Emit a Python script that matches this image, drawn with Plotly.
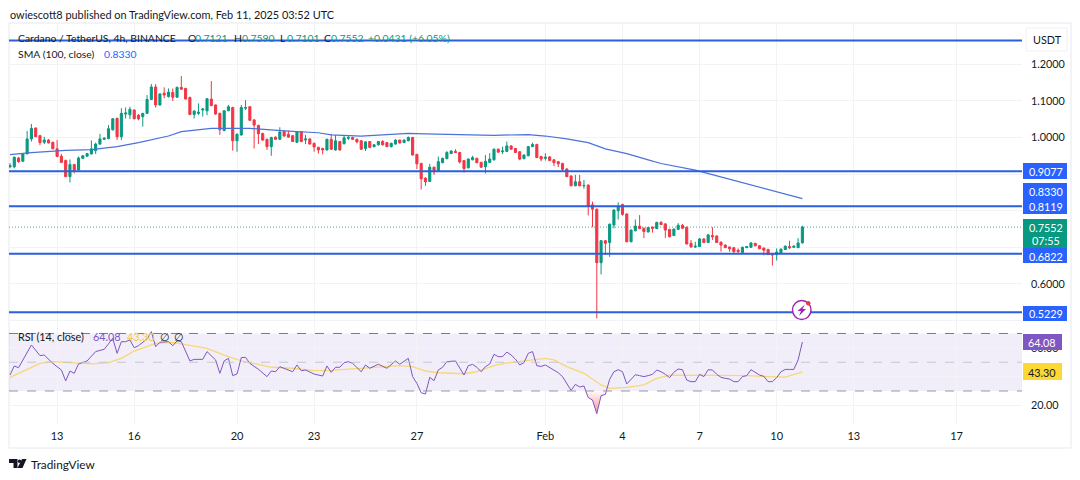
# Cardano / TetherUS 4h chart with SMA and RSI, rebuilt from a TradingView snapshot

import pandas as pd
import plotly.graph_objects as go

W = 1080
H = 480

opens = [
    .920, .920, .944, .935, .955, .996, 1.026, 1.005, .987, .993,
    .987, .969, .949, .937, .893, .926, .911, .943, .949, .955,
    .964, .982, .995, .997, 1.021, 1.052, 1.002, 1.064, 1.062, 1.075,
    1.061, 1.057, 1.066, 1.104, 1.138, 1.089, 1.121, 1.112, 1.123, 1.110,
    1.137, 1.134, 1.109, 1.063, 1.066, 1.075, 1.073, 1.105, 1.089, 1.066,
    1.019, 1.073, 1.082, .991, 1.007, 1.080, 1.084, 1.048, 1.033, 1.011,
    .995, .975, 1.001, .995, 1.016, 1.009, 1.005, .987, 1.016, .993,
    .996, .984, .973, .970, .966, .995, .966, .989, .983, .998,
    1.000, .995, .991, .970, .989, .975, .980, .989, .986, .975,
    .982, .993, .986, .991, 1.000, .954, .929, .889, .880, .919,
    .907, .931, .942, .956, .962, .959, .937, .917, .939, .943,
    .932, .920, .932, .939, .968, .961, .962, .977, .970, .961,
    .942, .950, .975, .981, .948, .943, .947, .939, .934, .929,
    .914, .895, .868, .879, .868, .870, .816, .804, .658, .718,
    .713, .761, .800, .817, .791, .715, .745, .758, .752, .742,
    .755, .751, .768, .764, .749, .732, .749, .760, .755, .711,
    .701, .702, .723, .713, .732, .731, .714, .706, .701, .699,
    .692, .686, .699, .700, .711, .704, .698, .694, .682, .680,
    .685, .694, .702, .700, .699, .7121,
]
highs = [
    .930, .948, .947, .957, 1.018, 1.037, 1.027, 1.007, 1.002, .996,
    .988, .993, .955, .940, .940, .928, .948, .952, .958, .992,
    .986, 1.010, 1.001, 1.034, 1.053, 1.055, 1.080, 1.082, 1.084, 1.077,
    1.064, 1.067, 1.116, 1.146, 1.146, 1.121, 1.137, 1.134, 1.134, 1.139,
    1.168, 1.136, 1.112, 1.075, 1.093, 1.080, 1.106, 1.154, 1.090, 1.068,
    1.075, 1.089, 1.084, 1.011, 1.089, 1.102, 1.086, 1.050, 1.035, 1.013,
    .997, 1.002, 1.003, 1.028, 1.020, 1.019, 1.007, 1.017, 1.017, 1.007,
    .998, .986, .975, .972, .997, 1.010, 1.007, .991, 1.007, 1.007,
    1.002, .997, .993, .990, .990, .982, .990, .993, .988, .986,
    .995, .994, .995, 1.003, 1.002, .955, .931, .891, .928, .920,
    .948, .945, .963, .965, .968, .961, .938, .943, .950, .945,
    .934, .952, .957, .970, .970, .975, .989, .979, .971, .963,
    .954, .977, .986, .983, .950, .957, .949, .940, .935, .931,
    .916, .896, .898, .898, .884, .872, .825, .806, .720, .720,
    .765, .804, .823, .819, .793, .749, .776, .788, .754, .756,
    .757, .770, .772, .766, .750, .751, .766, .764, .756, .720,
    .715, .725, .724, .736, .755, .732, .716, .708, .702, .700,
    .697, .702, .703, .714, .712, .706, .699, .696, .684, .697,
    .697, .705, .718, .705, .725, .7590,
]
lows = [
    .916, .916, .931, .935, .955, .989, 1.001, .979, .982, .984,
    .968, .947, .930, .893, .877, .902, .911, .942, .948, .954,
    .955, .980, .993, .995, 1.019, .993, .993, 1.052, 1.050, 1.050,
    1.047, 1.030, 1.064, 1.102, 1.082, 1.087, 1.107, 1.109, 1.100, 1.108,
    1.130, 1.104, 1.061, 1.052, 1.061, 1.057, 1.061, 1.086, 1.062, 1.007,
    1.017, 1.072, .964, .961, 1.005, 1.075, 1.045, .970, .982, .991,
    .966, .950, .993, .994, 1.002, 1.000, .988, .985, .987, .982,
    .981, .961, .956, .954, .964, .966, .964, .964, .981, .993,
    .993, .984, .966, .963, .971, .973, .978, .978, .974, .973,
    .981, .984, .985, .990, .951, .914, .858, .868, .879, .898,
    .906, .930, .941, .955, .958, .929, .904, .916, .938, .930,
    .917, .902, .931, .937, .959, .955, .960, .967, .958, .938,
    .941, .949, .974, .944, .935, .937, .936, .922, .919, .907,
    .892, .867, .867, .867, .860, .787, .755, .506, .626, .679,
    .674, .752, .776, .786, .714, .714, .744, .750, .725, .741,
    .740, .750, .761, .726, .727, .731, .748, .751, .708, .699,
    .698, .701, .712, .712, .720, .712, .688, .698, .688, .685,
    .685, .682, .698, .699, .703, .695, .678, .679, .650, .664,
    .684, .693, .695, .699, .698, .7101,
]
closes = [
    .923, .946, .934, .955, .996, 1.025, 1.002, .986, .993, .985,
    .969, .948, .932, .893, .926, .909, .944, .950, .956, .969,
    .982, .996, .998, 1.024, 1.051, 1.002, 1.066, 1.067, 1.077, 1.051,
    1.051, 1.066, 1.104, 1.138, 1.089, 1.119, 1.116, 1.124, 1.110, 1.137,
    1.132, 1.105, 1.063, 1.072, 1.069, 1.078, 1.106, 1.087, 1.064, 1.021,
    1.073, 1.084, .991, 1.009, 1.082, 1.082, 1.047, 1.034, 1.010, .993,
    .975, 1.000, .995, 1.015, 1.004, 1.001, .989, 1.015, .989, .996,
    .982, .974, .966, .966, .995, .968, .991, .966, .999, 1.000,
    .995, .988, .968, .988, .973, .980, .989, .980, .975, .984,
    .993, .985, .993, 1.000, .952, .928, .887, .879, .919, .906,
    .934, .943, .959, .963, .959, .933, .915, .941, .945, .931,
    .919, .935, .941, .968, .960, .963, .977, .968, .959, .941,
    .952, .975, .981, .945, .941, .946, .937, .931, .928, .913,
    .893, .868, .879, .868, .869, .813, .804, .658, .718, .711,
    .763, .802, .811, .790, .715, .747, .758, .751, .743, .754,
    .752, .768, .762, .747, .729, .750, .760, .752, .709, .701,
    .703, .723, .713, .734, .729, .713, .706, .699, .696, .688,
    .688, .700, .702, .712, .704, .696, .692, .680, .679, .687,
    .695, .703, .699, .703, .712, .7552,
]

sma_bars = [0, 5, 13, 19, 25, 30, 37, 40, 47, 56, 64, 72, 75, 82, 88, 93, 97, 105,
            113, 121, 125, 130, 135, 139, 144, 149, 152, 160, 172, 185]
sma_values = [.953, .9586, .965, .967, .975, .986, 1.004, 1.016, 1.025, 1.025, 1.018,
              1.013, 1.007, 1.004, 1.008, 1.011, 1.010, 1.007, 1.006, 1.008, 1.004,
              .996, .986, .969, .956, .939, .929, .911, .873, .833]

rsi_bars = [0, 1, 2, 3, 5, 7, 8, 10, 12, 13, 14, 15, 16, 18, 20, 22, 23, 24, 25, 26,
            27, 28, 29, 30, 32, 33, 34, 35, 37, 38, 39, 40, 42, 43, 45, 46, 48, 49, 50, 51,
            52, 53, 54, 55, 56, 58, 60, 61, 62, 63, 66, 67, 68, 69, 71, 73, 74, 75, 76, 77,
            78, 79, 80, 82, 83, 84, 86, 88, 90, 91, 93, 94, 95, 96, 97, 98, 99, 100, 101, 102,
            104] + list(range(105, 186))
rsi_values = [41.1, 47.4, 46.2, 51.6, 62, 54.6, 55, 49.2, 44.6, 37, 43.9, 42.3, 48.8, 50.9,
              57.4, 59, 63.2, 66.6, 56.2, 64.3, 64.3, 65.5, 60.1, 61.5, 66.2, 71.3, 60.8, 63.9,
              64.3, 61.5, 64.8, 64.3, 50.9, 52, 52, 57.4, 51.6, 42.3, 50.9, 52.7, 40.7, 41.8,
              53.2, 53.4, 49.2, 45.1, 40, 43.9, 43.4, 46.9, 43.4, 48.1, 44.1, 44.6, 41.8, 40.4,
              47.4, 43, 46.5, 46.5, 49.7, 50.4, 49.2, 43.4, 48.1, 45.8, 48.6, 45.8, 50.9, 48.6,
              52.7, 40, 35.3, 28.8, 27.9, 39.5, 37.2, 44.6, 46.5, 50.4, 50.9,
              45.8, 41.1, 47.6, 48.5, 46.5, 43.4, 46.9, 48.8, 55.5, 53.9, 53.9, 57.1, 55, 52.2,
              48.1, 49.7, 56.2, 57.4, 47.6, 47.1, 48.1, 46.2, 44.8, 42.7, 40, 35.3, 30.4, 34.6,
              32.8, 33.5, 25.4, 23.7, 14.2, 26.7, 27.7, 38.1, 43.4, 44.8, 43.4, 34.9, 38.3, 41.3,
              40.7, 40, 40.7, 41.6, 44.6, 43.4, 41.6, 39.3, 43, 45.3, 44.8, 37.6, 36.5, 36.5,
              41.6, 40, 44.8, 44.6, 41.6, 39.5, 38.8, 38.3, 36.5, 36.5, 40, 40.7, 44.8, 42.7,
              41.1, 40.2, 36.5, 36.5, 39.3, 43.4, 45, 45, 45, 51.6, 64.08]

rsi_ma_bars = [0, 2, 5, 7, 10, 13, 16, 19, 23, 26, 29, 32, 34, 38, 41, 46, 50, 54, 58, 61,
               66, 71, 75, 80, 86, 91, 94, 97, 100, 106, 109, 113, 116, 121, 125, 127, 130,
               134, 138, 140, 144, 148, 151, 154, 161, 169, 172, 177, 181, 185]
rsi_ma_values = [39.5, 42.3, 46.9, 49.2, 50.4, 49.9, 49.7, 48.8, 49.7, 52.7, 57.8, 60.8, 63.1,
                 63.8, 62.4, 59.7, 55, 50.9, 48.5, 46.5, 45.8, 44.1, 44.4, 45.3, 46.2, 47.6,
                 46.9, 43.9, 42.7, 42, 43.4, 47.6, 49.5, 51.3, 52.7, 51.6, 46.9, 42.3, 34.2,
                 31.8, 32.5, 34.2, 38.8, 41.1, 41.1, 40.7, 40.7, 40, 39.7, 43.3]

levels = [1.265, 0.9077, 0.8119, 0.6822, 0.5229]
last_price = 0.7552

price_ticks = [1.2, 1.1, 1.0, 0.9, 0.8, 0.7, 0.6, 0.5]
price_labels = ["1.2000", "1.1000", "1.0000", "", "", "", "0.6000", ""]
rsi_ticks = [60, 40, 20]
rsi_labels = ["60.00", "", "20.00"]
date_ticks = ["2025-01-13", "2025-01-16", "2025-01-20", "2025-01-23", "2025-01-27", "2025-02-01",
              "2025-02-04", "2025-02-07", "2025-02-10", "2025-02-13", "2025-02-17"]
date_labels = ["13", "16", "20", "23", "27", "Feb", "4", "7", "10", "13", "17"]

GREEN = "#089981"
RED = "#F23645"
BLUE = "#2962FF"
LEVEL_BLUE = "#2B5FDD"
SMA_BLUE = "#4A72D9"
PURPLE = "#7E57C2"
YELLOW = "#F7D774"
GRID = "#F2F3F7"
INK = "#131722"
FONT = "Lato"

times = pd.date_range("2025-01-11 04:00", periods=len(opens), freq="4h")
x_range = [times[0] - pd.Timedelta(hours=0.93), times[0] + pd.Timedelta(hours=945.1)]


def px(x):
    return x / W


def py(y):
    return 1 - y / H


def path(points, close=True):
    cmds = [("M" if n == 0 else "L") + f"{px(a):.5f},{py(b):.5f}" for n, (a, b) in enumerate(points)]
    return " ".join(cmds) + (" Z" if close else "")


fig = go.Figure()

fig.add_trace(go.Candlestick(
    x=times, open=opens, high=highs, low=lows, close=closes, xaxis="x", yaxis="y",
    increasing=dict(line=dict(color=GREEN, width=1), fillcolor=GREEN),
    decreasing=dict(line=dict(color=RED, width=1), fillcolor=RED),
    whiskerwidth=0, showlegend=False,
))
fig.add_trace(go.Scatter(
    x=times[sma_bars], y=sma_values, mode="lines", xaxis="x", yaxis="y",
    line=dict(color=SMA_BLUE, width=1.2), showlegend=False,
))

# oversold wedge under the 30 line
low_bars = [134, 135, 136, 137, 138, 139, 140]
low_rsi = [min(rsi_values[rsi_bars.index(b)], 30) for b in low_bars]
fig.add_trace(go.Scatter(
    x=times[low_bars], y=[30] * len(low_bars), mode="lines", line=dict(width=0),
    xaxis="x2", yaxis="y2", showlegend=False,
))
fig.add_trace(go.Scatter(
    x=times[low_bars], y=low_rsi, mode="lines", line=dict(width=0), fill="tonexty",
    fillgradient=dict(type="vertical", colorscale=[[0, "rgba(242,54,69,0.55)"], [1, "rgba(242,54,69,0.02)"]]),
    xaxis="x2", yaxis="y2", showlegend=False,
))
fig.add_trace(go.Scatter(
    x=times[rsi_ma_bars], y=rsi_ma_values, mode="lines", xaxis="x2", yaxis="y2",
    line=dict(color=YELLOW, width=1.3), showlegend=False,
))
fig.add_trace(go.Scatter(
    x=times[rsi_bars], y=rsi_values, mode="lines", xaxis="x2", yaxis="y2",
    line=dict(color=PURPLE, width=1), showlegend=False,
))

shapes = []

# chart frame
shapes.append(dict(type="rect", xref="paper", yref="paper", x0=px(9), x1=px(1071), y0=py(448), y1=py(23),
                   line=dict(color="#E6E8EE", width=1), layer="below"))

# RSI band
shapes.append(dict(type="rect", xref="paper", yref="y2", x0=px(9), x1=px(1022), y0=30, y1=70,
                   fillcolor="rgba(126,87,194,0.10)", line=dict(width=0), layer="below"))
for val, col in [(70, "#787B86"), (50, "#C4C6CE"), (30, "#9598A1")]:
    shapes.append(dict(type="line", xref="paper", yref="y2", x0=px(9), x1=px(1022), y0=val, y1=val,
                       line=dict(color=col, width=1, dash="dash")))

# horizontal levels and last price
for lvl in levels:
    shapes.append(dict(type="line", xref="paper", yref="y", x0=px(9), x1=px(1022), y0=lvl, y1=lvl,
                       line=dict(color=LEVEL_BLUE, width=2)))
shapes.append(dict(type="line", xref="paper", yref="y", x0=px(9), x1=px(1022), y0=last_price, y1=last_price,
                   line=dict(color=GREEN, width=0.8, dash="1px,2px")))

# price tags on the right
for y0, y1, col, x1 in [(219, 248, GREEN, 1067), (163, 179, BLUE, 1067), (183, 214, BLUE, 1067),
                        (248, 263, BLUE, 1067), (306, 321, BLUE, 1067),
                        (334, 350, PURPLE, 1062), (363, 380, "#FDD835", 1062)]:
    shapes.append(dict(type="rect", xref="paper", yref="paper", x0=px(1023), x1=px(x1), y0=py(y1), y1=py(y0),
                       fillcolor=col, line=dict(width=0)))

# USDT box
shapes.append(dict(type="rect", xref="paper", yref="paper", x0=px(1026), x1=px(1067), y0=py(51), y1=py(28),
                   fillcolor="white", line=dict(color="#EEF0F4", width=1)))

# lightning badge
shapes.append(dict(type="circle", xref="paper", yref="paper", x0=px(792.5), x1=px(811), y0=py(319.5), y1=py(300.5),
                   fillcolor="white", line=dict(color="#9C27B0", width=1.4)))
shapes.append(dict(type="path", xref="paper", yref="paper", fillcolor="#9C27B0", line=dict(width=0),
                   path=path([(805, 304.5), (797.5, 311), (801, 311), (799, 316), (806, 309), (802.5, 309)])))
shapes.append(dict(type="circle", xref="paper", yref="paper", x0=px(806), x1=px(810.5), y0=py(305.5), y1=py(301),
                   fillcolor=RED, line=dict(width=0)))

# TradingView mark
shapes.append(dict(type="path", xref="paper", yref="paper", fillcolor=INK, line=dict(width=0),
                   path=path([(9, 459), (17.5, 459), (17.5, 468), (13.5, 468), (13.5, 463), (9, 463)])))
shapes.append(dict(type="path", xref="paper", yref="paper", fillcolor=INK, line=dict(width=0),
                   path=path([(22, 459), (26.5, 459), (22.5, 468), (17.5, 468)])))
shapes.append(dict(type="circle", xref="paper", yref="paper", x0=px(17.8), x1=px(21.2), y0=py(463), y1=py(459.5),
                   fillcolor=INK, line=dict(width=0)))

annotations = []


def label(x, y, text, color=INK, size=10.8, anchor="left"):
    annotations.append(dict(xref="paper", yref="paper", x=px(x), y=py(y), text=text, showarrow=False,
                            xanchor=anchor, yanchor="middle", borderpad=0,
                            font=dict(family=FONT, size=size, color=color)))


label(9, 14, "owiescott8 published on TradingView.com, Feb 11, 2025 03:52 UTC", size=10.9)

label(17, 38, "Cardano / TetherUS, 4h, BINANCE", size=10.4)
for x, y, text, col in [(187, 38, "O", INK), (194, 38, "0.7121", GREEN), (233, 38, "H", INK), (241, 38, "0.7590", GREEN),
                        (279, 38, "L", INK), (286, 38, "0.7101", GREEN), (323, 38, "C", INK), (330, 38, "0.7552", GREEN),
                        (367, 38, "+0.0431 (+6.05%)", GREEN)]:
    label(x, y, text, col, 10.4)
label(17, 54, "SMA (100, close)", size=10.4)
label(103, 54, "0.8330", BLUE, 10.4)

label(17, 336, "RSI (14, close)", size=10.8)
label(92, 336, "64.08", PURPLE)
label(126, 336, "43.30", "#F2C94C")
label(159, 336, "∅")
label(173, 336, "∅")

label(1047, 39, "USDT", size=10.8, anchor="center")
for y, text in [(171.5, "0.9077"), (191.5, "0.8330"), (206, "0.8119"), (227, "0.7552"), (240, "07:55"),
                (256, "0.6822"), (313, "0.5229")]:
    label(1046, y, text, "white", 10.8, "center")
label(1042, 342, "64.08", "white", 10.8, "center")
label(1042, 372, "43.30", INK, 10.8, "center")

label(30, 464, "TradingView", size=11.8)

fig.update_layout(
    width=W, height=H, margin=dict(l=0, r=0, t=0, b=0),
    paper_bgcolor="white", plot_bgcolor="white", showlegend=False,
    font=dict(family=FONT, size=10.8, color=INK),
    shapes=shapes, annotations=annotations,
    xaxis=dict(domain=[px(9), px(1022)], range=x_range, anchor="y", type="date",
               tickmode="array", tickvals=date_ticks, ticktext=date_labels, showticklabels=False,
               showgrid=True, gridcolor=GRID, gridwidth=1, zeroline=False, showline=False,
               rangeslider=dict(visible=False)),
    yaxis=dict(domain=[py(326), py(23)], range=[0.485, 1.3128], side="right", anchor="x",
               tickmode="array", tickvals=price_ticks, ticktext=price_labels,
               showgrid=True, gridcolor=GRID, gridwidth=1, zeroline=False, showline=False,
               ticks="", ticklabelstandoff=8),
    xaxis2=dict(domain=[px(9), px(1022)], range=x_range, anchor="y2", type="date", matches="x",
                tickmode="array", tickvals=date_ticks, ticktext=date_labels, tickangle=0,
                showgrid=True, gridcolor=GRID, gridwidth=1, zeroline=False, showline=False,
                ticks="", ticklabelstandoff=3, tickfont=dict(size=11)),
    yaxis2=dict(domain=[py(425), py(326)], range=[6.35, 75.2], side="right", anchor="x2",
                tickmode="array", tickvals=rsi_ticks, ticktext=rsi_labels,
                showgrid=True, gridcolor=GRID, gridwidth=1, zeroline=False, showline=False,
                ticks="", ticklabelstandoff=8),
)

fig.write_html("out.html", config=dict(displayModeBar=False),
               post_script="document.body.style.margin='0';document.body.style.overflow='hidden';")
